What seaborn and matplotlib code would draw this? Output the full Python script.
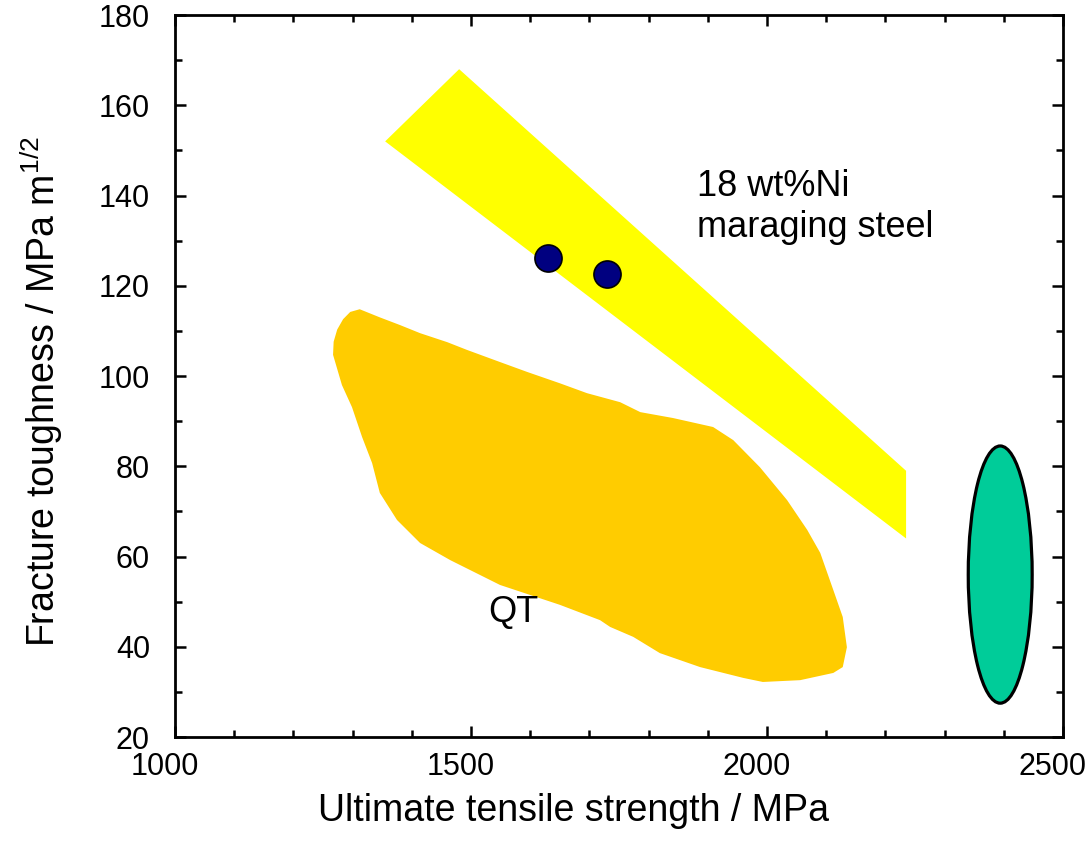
import numpy as np
import pandas as pd
import seaborn as sns
import matplotlib.pyplot as plt
from matplotlib.patches import Ellipse, Polygon
from matplotlib.transforms import ScaledTranslation

# Data
# maraging steel band (UTS / MPa, K_IC / MPa m^1/2)
band_uts = [1355, 1480, 2235, 2235]
band_k = [152, 168, 79, 64]

# QT steels region outline
qt_uts = [1312, 1346, 1380, 1414, 1460, 1493, 1549, 1595, 1650, 1696, 1752, 1786,
          1841, 1909, 1943, 1988, 2034, 2068, 2090, 2112, 2128, 2135, 2128, 2112,
          2056, 1993, 1960, 1887, 1819, 1774, 1735, 1718, 1650, 1549, 1465, 1414,
          1375, 1346, 1333, 1316, 1299, 1282, 1267, 1268, 1274, 1284, 1296]
qt_k = [114.8, 113.0, 111.3, 109.5, 107.5, 105.8, 103.1, 100.9, 98.4, 96.2, 94.2, 92.0,
        90.7, 88.7, 85.8, 79.8, 72.5, 65.9, 60.8, 52.6, 46.6, 39.9, 35.5, 34.2,
        32.6, 32.2, 33.1, 35.5, 38.6, 42.2, 44.4, 45.9, 49.3, 53.7, 59.2, 63.0,
        68.1, 74.1, 80.7, 86.5, 93.1, 98.0, 104.7, 107.6, 110.3, 112.6, 114.2]

# individual maraging steel points
pts_uts = [1630, 1730]
pts_k = [126.1, 122.6]

# ellipse region (centre, width, height)
ell_uts, ell_k = 2394, 56
ell_w, ell_h = 108, 57

sns.set_theme(style="ticks")
plt.rcParams['font.family'] = ['Liberation Sans', 'DejaVu Sans']
plt.rcParams['mathtext.default'] = 'regular'
plt.rcParams['text.color'] = 'black'
plt.rcParams['axes.labelcolor'] = 'black'
plt.rcParams['xtick.color'] = 'black'
plt.rcParams['ytick.color'] = 'black'

fig = plt.figure(figsize=(10.91, 8.59), dpi=100)
ax = fig.add_axes([0.1604, 0.142, 0.8139, 0.8405])

ax.add_patch(Polygon(np.column_stack([band_uts, band_k]), closed=True,
                     facecolor='#FFFF00', edgecolor='none', zorder=1))
ax.add_patch(Polygon(np.column_stack([qt_uts, qt_k]), closed=True,
                     facecolor='#FFCC00', edgecolor='none', zorder=1))
ax.add_patch(Ellipse((ell_uts, ell_k), ell_w, ell_h, facecolor='#00CC99',
                     edgecolor='black', linewidth=2.3, zorder=2))

df = pd.DataFrame({'uts': pts_uts, 'k': pts_k})
sns.scatterplot(data=df, x='uts', y='k', ax=ax, s=380, color='#000080',
                edgecolor='black', linewidth=1.2, zorder=3)

ax.text(1882, 137.5, '18 wt%Ni\nmaraging steel', fontsize=26, va='center',
        ha='left', linespacing=1.22)
ax.text(1571, 47.5, 'QT', fontsize=26, va='center', ha='center')

ax.set_xlim(1000, 2500)
ax.set_ylim(20, 180)
ax.set_xticks([1000, 1500, 2000, 2500])
ax.set_yticks(range(20, 181, 20))
ax.set_xticks(range(1000, 2501, 100), minor=True)
ax.set_yticks(range(20, 181, 10), minor=True)
ax.tick_params(which='both', direction='in', top=True, right=True,
               width=1.8, labelsize=22)
ax.tick_params(which='major', length=8)
ax.tick_params(which='minor', length=5)
ax.tick_params(axis='x', pad=11)
ax.tick_params(axis='y', pad=18)
for sp in ax.spines.values():
    sp.set_linewidth(2)
    sp.set_color('black')

# x tick labels sit slightly left of their ticks in the original
shift = ScaledTranslation(-10 / 100, 0, fig.dpi_scale_trans)
for lab in ax.get_xticklabels():
    lab.set_transform(lab.get_transform() + shift)

ax.set_xlabel('Ultimate tensile strength / MPa', fontsize=27)
ax.set_ylabel('Fracture toughness / MPa m$^{1/2}$', fontsize=27)
ax.xaxis.set_label_coords(0.449, -0.077)
ax.yaxis.set_label_coords(-0.124, 0.478)

plt.savefig('out.png', dpi=100)
